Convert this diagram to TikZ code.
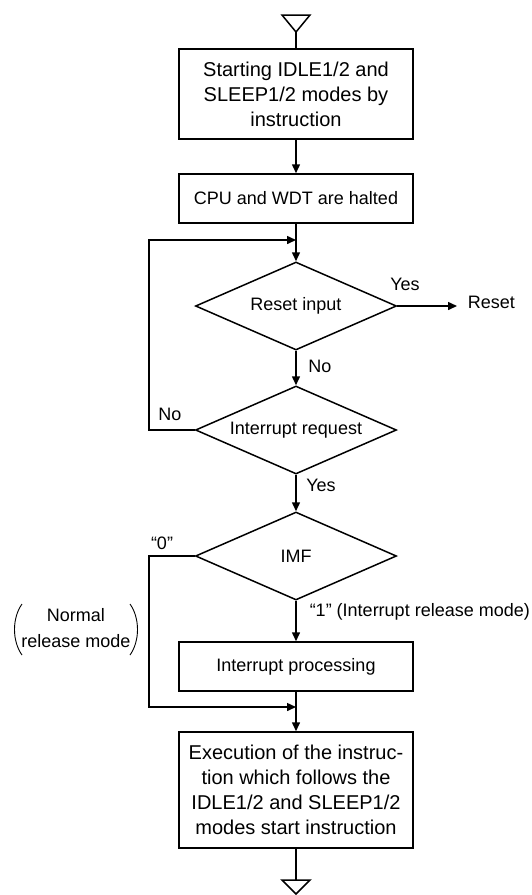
\documentclass[tikz,border=0pt]{standalone}
\usepackage{fontspec}
\setmainfont{Liberation Sans}
\usetikzlibrary{shapes.geometric,arrows.meta}
\newcommand{\smallfnt}{\fontsize{18}{23}\selectfont}
\newcommand{\bigfnt}{\fontsize{20}{25}\selectfont}
\begin{document}
\begin{tikzpicture}[x=1pt,y=-1pt,line width=1.5pt,
  >={Triangle[length=9pt,width=8pt]},
  box/.style={draw,rectangle,minimum width=234pt,inner sep=0pt,align=center,font=\smallfnt},
  dec/.style={draw,diamond,aspect=2.28,minimum width=201pt,minimum height=88pt,inner sep=0pt,font=\smallfnt},
  lbl/.style={inner sep=0pt,font=\smallfnt},
  paren/.style={line width=0.9pt}]
\useasboundingbox (0,0) rectangle (532,895);
% start / end marks
\coordinate (t1) at (296,32);
\draw (282,15) -- (310,15) -- (t1) -- cycle;
\coordinate (t2) at (296,880);
\draw (282,880) -- (310,880) -- (296,894) -- cycle;
% nodes
\node[box,minimum height=90pt,font=\bigfnt] (b1) at (296,94) {Starting IDLE1/2 and\\SLEEP1/2 modes by\\instruction};
\node[box,minimum height=49pt] (b2) at (296,198.5) {CPU and WDT are halted};
\coordinate (j1) at (296,240);
\node[dec] (d1) at (296,306) {Reset input};
\node[lbl,anchor=west,inner xsep=10pt] (rst) at (457,302) {Reset};
\node[dec] (d2) at (296,430) {Interrupt request};
\node[dec] (d3) at (296,556) {IMF};
\node[box,minimum height=49pt] (b3) at (296,666.5) {Interrupt processing};
\coordinate (j2) at (296,707);
\node[box,minimum height=116pt,font=\bigfnt] (b4) at (296,790) {Execution of the instruc-\\tion which follows the\\IDLE1/2 and SLEEP1/2\\modes start instruction};
\coordinate (lx) at (149,0);
% labels
\node[lbl] (y1) at (405,284) {Yes};
\node[lbl] (n1) at (320,366) {No};
\node[lbl] (n2) at (170,414) {No};
\node[lbl] (y2) at (321,485) {Yes};
\node[lbl] (z0) at (162,543) {“0”};
\node[lbl,anchor=west] (o1) at (309,612) {“1” (Interrupt release mode)};
\node[lbl,align=center,font=\fontsize{18}{26}\selectfont] (nrm) at (76,628) {Normal\\release mode};
\draw[paren] (22,604) .. controls (12,618) and (12,641) .. (22,655);
\draw[paren] (130,604) .. controls (140,618) and (140,641) .. (130,655);
% connectors
\draw (t1) -- (b1);
\draw[->] (b1) -- (b2);
\draw[->] (b2) -- (d1);
\draw[->] (d1.east) -- (d1.east -| rst.west);
\draw[->] (d1) -- (d2);
\draw[->] (d2.west) -- (d2.west -| lx) |- (j1);
\draw[->] (d2) -- (d3);
\draw[->] (d3) -- (b3);
\draw[->] (d3.west) -- (d3.west -| lx) |- (j2);
\draw[->] (b3) -- (b4);
\draw (b4) -- (t2);
\end{tikzpicture}
\end{document}
